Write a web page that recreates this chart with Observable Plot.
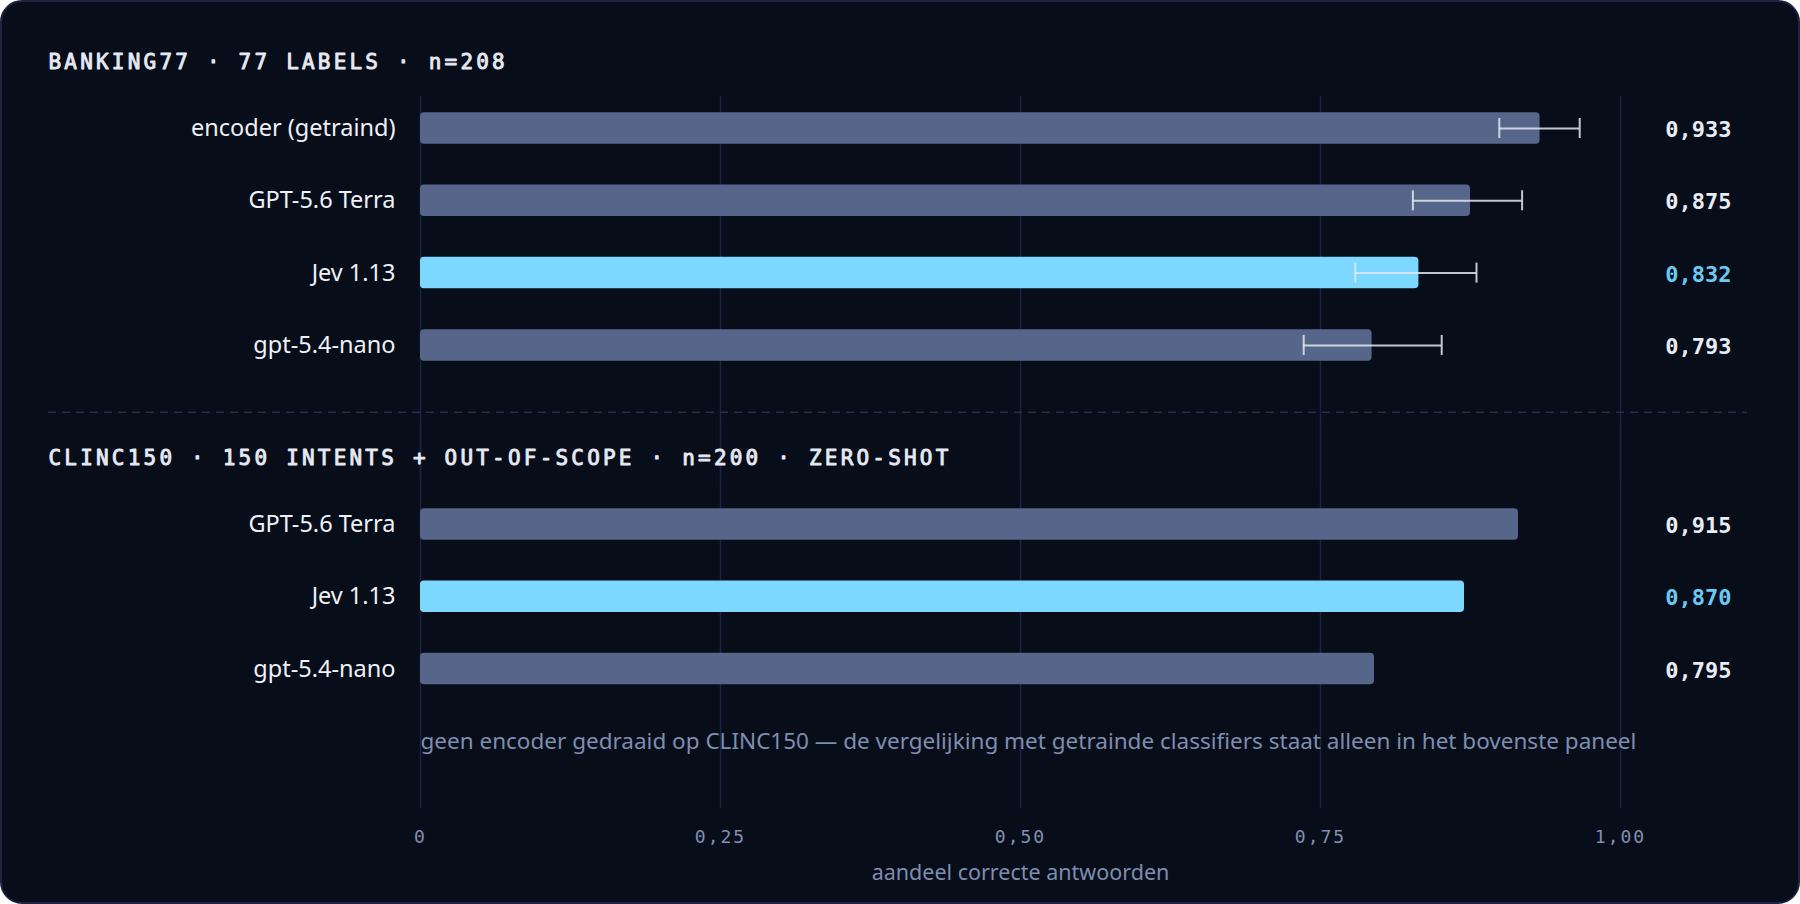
<!DOCTYPE html>
<html>
<head>
<meta charset="utf-8">
<script src="https://cdn.jsdelivr.net/npm/d3@7"></script>
<script src="https://cdn.jsdelivr.net/npm/@observablehq/plot@0.6"></script>
<style>
  html, body { margin: 0; padding: 0; background: #ffffff; overflow: hidden; }
  #wrap { position: relative; width: 1800px; height: 904px; }
  #card { position: absolute; inset: 0; box-sizing: border-box; border: 2px solid #1c2442; border-radius: 22px; background: #080d1a; }
  #chart { position: absolute; left: 0; top: 0; }
  g[font-size="21"] text { letter-spacing: 3.2px; }
  g[font-size="18"][font-family="DejaVu Sans Mono"] text { letter-spacing: 2px; }
</style>
</head>
<body>
<div id="wrap"><div id="card"></div><div id="chart"></div></div>
<script>
// ---- data ----
const datasets = ["BANKING77", "CLINC150"];
const datasetTitles = [
  "BANKING77 · 77 LABELS · n=208",
  "CLINC150 · 150 INTENTS + OUT-OF-SCOPE · n=200 · ZERO-SHOT"
];
const models = ["encoder (getraind)", "GPT-5.6 Terra", "Jev 1.13", "gpt-5.4-nano"];
const bankingValues = [0.933, 0.875, 0.832, 0.793];
const bankingLow = [0.899, 0.827, 0.779, 0.736];
const bankingHigh = [0.966, 0.918, 0.880, 0.851];
const clincModels = ["GPT-5.6 Terra", "Jev 1.13", "gpt-5.4-nano"];
const clincValues = [0.915, 0.870, 0.795];
const highlightModel = "Jev 1.13";
const xTicks = [0, 0.25, 0.5, 0.75, 1];
const xTickLabels = ["0", "0,25", "0,50", "0,75", "1,00"];
const axisLabel = "aandeel correcte antwoorden";
const caption = "geen encoder gedraaid op CLINC150 — de vergelijking met getrainde classifiers staat alleen in het bovenste paneel";

// ---- derived tables ----
const rows = [
  ...models.map((m, i) => ({dataset: datasets[0], model: m, value: bankingValues[i], lo: bankingLow[i], hi: bankingHigh[i]})),
  ...clincModels.map((m, i) => ({dataset: datasets[1], model: m, value: clincValues[i]}))
];
const errRows = rows.filter(d => d.lo != null);
const titles = datasets.map((ds, i) => ({dataset: ds, title: datasetTitles[i], first: rows.find(r => r.dataset === ds).model}));
const lastDataset = datasets[datasets.length - 1];
const nl = d3.formatLocale({decimal: ",", thousands: ".", grouping: [3], currency: ["€", ""]});
const fmt = nl.format(".3f");

const MONO = "DejaVu Sans Mono";
const SANS = "Noto Sans";
const grey = "#56668a", cyan = "#7dd8ff";

const chart = Plot.plot({
  width: 1800,
  height: 904,
  marginLeft: 420,
  marginRight: 180,
  marginTop: 96,
  marginBottom: 96,
  style: {background: "transparent", fontFamily: SANS, overflow: "visible"},
  x: {domain: [0, 1], axis: null},
  y: {domain: models, axis: null, paddingInner: 0.5643, paddingOuter: 0, round: false},
  fy: {domain: datasets, axis: null, paddingInner: 0.2326, paddingOuter: 0.2161, align: 0.1162, round: false},
  marks: [
    // grid: repeated in each facet, extended so both pieces join into one line from 96 to 808
    Plot.ruleX(xTicks, {x: d => d, facet: false, insetTop: -16.26, insetBottom: -123.64, stroke: "#1b2340", strokeWidth: 1.5}),
    Plot.ruleY(titles.slice(1), {y: "first", fy: "dataset", dy: -112.3, insetLeft: -372, insetRight: -127,
      stroke: "#252e4d", strokeWidth: 1.5, strokeDasharray: "8,6"}),
    Plot.barX(rows, {x: "value", y: "model", fy: "dataset", rx: 4,
      fill: d => d.model === highlightModel ? cyan : grey}),
    Plot.ruleY(errRows, {y: "model", fy: "dataset", x1: "lo", x2: "hi", stroke: "#e2e7f0", strokeOpacity: 0.85, strokeWidth: 2}),
    Plot.tickX(errRows, {x: "lo", y: "model", fy: "dataset", insetTop: 5.75, insetBottom: 5.75, stroke: "#e2e7f0", strokeOpacity: 0.85, strokeWidth: 2}),
    Plot.tickX(errRows, {x: "hi", y: "model", fy: "dataset", insetTop: 5.75, insetBottom: 5.75, stroke: "#e2e7f0", strokeOpacity: 0.85, strokeWidth: 2}),
    Plot.text(rows, {y: "model", fy: "dataset", text: "model", frameAnchor: "left", textAnchor: "end", dx: -25,
      fill: "#eef1f7", fontSize: 23.5, fontFamily: SANS}),
    Plot.text(rows, {y: "model", fy: "dataset", text: d => fmt(d.value), frameAnchor: "right", textAnchor: "end", dx: 111, dy: 1.5,
      fill: d => d.model === highlightModel ? "#6ccaf2" : "#e8ecf4", fontSize: 22, fontWeight: 700, fontFamily: MONO}),
    Plot.text(titles, {y: "first", fy: "dataset", text: "title", frameAnchor: "left", textAnchor: "start", lineAnchor: "bottom",
      dx: -372, dy: -59.5, fill: "#e6e9f2", stroke: "#e6e9f2", strokeWidth: 0.9, fontSize: 21, fontFamily: MONO}),
    // x tick labels, axis label and caption below the last panel
    Plot.text(xTicks, {x: d => d, fy: () => lastDataset, text: (d, i) => xTickLabels[i], frameAnchor: "bottom", lineAnchor: "bottom", dy: 158.64,
      fill: "#8190b0", fontSize: 18, fontFamily: MONO}),
    Plot.text([axisLabel], {fy: () => lastDataset, text: d => d, frameAnchor: "bottom", lineAnchor: "bottom", dy: 195.64,
      fill: "#7f8dae", fontSize: 21.5, fontFamily: SANS}),
    Plot.text([caption], {fy: () => lastDataset, text: d => d, frameAnchor: "bottom-left", textAnchor: "start", lineAnchor: "bottom", dy: 63.94,
      fill: "#7f8db0", fontSize: 22.5, fontFamily: SANS})
  ]
});
document.getElementById("chart").appendChild(chart);
</script>
</body>
</html>
